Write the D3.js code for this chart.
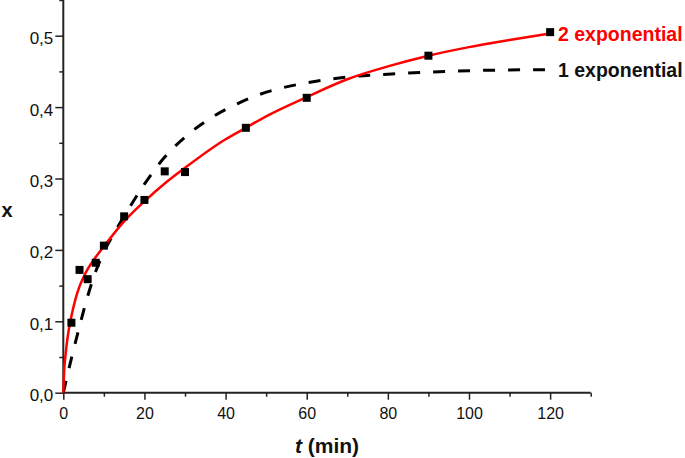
<!DOCTYPE html>
<html>
<head>
<meta charset="utf-8">
<script src="https://cdn.jsdelivr.net/npm/d3@7"></script>
<style>
  body { margin: 0; background: #fff; }
  svg { display: block; font-family: "Liberation Sans", Arial, sans-serif; }
</style>
</head>
<body>
<div id="chart"></div>
<script>
// Measured points.
const times = [2, 4, 6, 8, 10, 15, 20, 25, 30, 45, 60, 90, 120];
const conversions = [0.098, 0.172, 0.159, 0.182, 0.206, 0.247, 0.270, 0.310, 0.309, 0.371, 0.413, 0.472, 0.505];

// Fitted curves.
const fit2Times = [0, 0.2, 0.5, 1, 2, 3, 4, 5, 6, 8, 10, 15, 20, 25, 30, 40, 45, 50, 60, 70, 80, 90, 100, 110, 120];
const fit2Values = [0, 0.03, 0.05, 0.075, 0.107, 0.131, 0.149, 0.162, 0.173, 0.19, 0.205, 0.24, 0.268, 0.293, 0.315, 0.355, 0.371, 0.387, 0.414, 0.439, 0.457, 0.472, 0.484, 0.494, 0.503];
const fit1Times = [0, 2, 4, 6, 8, 10, 13, 15, 20, 25, 30, 37, 43, 48, 54, 60, 70, 80, 90, 100, 110, 120];
const fit1Values = [0, 0.048, 0.093, 0.135, 0.17, 0.197, 0.228, 0.247, 0.292, 0.33, 0.358, 0.387, 0.405, 0.417, 0.427, 0.434, 0.442, 0.446, 0.449, 0.451, 0.452, 0.4525];

const xTicks = [0, 20, 40, 60, 80, 100, 120];
const xMinor = [10, 30, 50, 70, 90, 110, 130];
const yTicks = [0, 0.1, 0.2, 0.3, 0.4, 0.5];
const yMinor = [0.05, 0.15, 0.25, 0.35, 0.45, 0.55];

const seriesLabels = ['2 exponential', '1 exponential'];

const width = 685;
const height = 458;
const axisColor = '#222';

const svg = d3.select('#chart')
  .append('svg')
  .attr('width', width)
  .attr('height', height);

const x = d3.scaleLinear().domain([0, 130]).range([63.3, 590.7]);
const y = d3.scaleLinear().domain([0, 0.55]).range([392.7, 0]);

const comma = d3.formatLocale({ decimal: ',', thousands: '.', grouping: [3], currency: ['', ''] });
const yFmt = comma.format('.1f');

// Minor ticks first, then the labelled ones.
svg.append('g')
  .attr('transform', `translate(0,${y(0)})`)
  .call(d3.axisBottom(x).tickValues(xMinor).tickSize(4).tickSizeOuter(0).tickFormat(''))
  .call(g => g.select('.domain').remove());

svg.append('g')
  .attr('transform', `translate(${x(0)},0)`)
  .call(d3.axisLeft(y).tickValues(yMinor).tickSize(4).tickSizeOuter(0).tickFormat(''))
  .call(g => g.select('.domain').remove());

svg.append('g')
  .attr('class', 'x-axis')
  .attr('transform', `translate(0,${y(0)})`)
  .call(d3.axisBottom(x).tickValues(xTicks).tickSize(7).tickSizeOuter(0).tickPadding(8));

svg.append('g')
  .attr('class', 'y-axis')
  .attr('transform', `translate(${x(0)},0)`)
  .call(d3.axisLeft(y).tickValues(yTicks).tickSize(8).tickSizeOuter(0).tickPadding(2).tickFormat(yFmt));

svg.selectAll('.domain').remove();
svg.selectAll('.tick line').attr('stroke', axisColor).attr('stroke-width', 1.5);
svg.selectAll('.tick text').attr('fill', '#111');
svg.selectAll('.x-axis .tick text').style('font-size', '16px');
svg.selectAll('.y-axis .tick text').style('font-size', '17px').attr('dy', '0.47em');

// Axis lines.
svg.append('line')
  .attr('x1', x(0)).attr('x2', x(130))
  .attr('y1', y(0)).attr('y2', y(0))
  .attr('stroke', axisColor).attr('stroke-width', 2);
svg.append('line')
  .attr('x1', x(0)).attr('x2', x(0))
  .attr('y1', y(0)).attr('y2', y(0.55))
  .attr('stroke', axisColor).attr('stroke-width', 2);

// Axis titles.
const xTitle = svg.append('text')
  .attr('x', (x(0) + x(130)) / 2)
  .attr('y', 453)
  .attr('text-anchor', 'middle')
  .attr('fill', '#111')
  .style('font-size', '21px')
  .style('font-weight', 'bold');
xTitle.append('tspan').style('font-style', 'italic').text('t');
xTitle.append('tspan').text(' (min)');

svg.append('text')
  .attr('x', 7)
  .attr('y', 217)
  .attr('text-anchor', 'middle')
  .attr('fill', '#111')
  .style('font-size', '20px')
  .style('font-weight', 'bold')
  .text('x');

const line = d3.line()
  .x(d => x(d[0]))
  .y(d => y(d[1]))
  .curve(d3.curveMonotoneX);

// 1 exponential (dashed).
svg.append('path')
  .datum(d3.zip(fit1Times, fit1Values))
  .attr('d', line)
  .attr('fill', 'none')
  .attr('stroke', '#000')
  .attr('stroke-width', 3)
  .attr('stroke-dasharray', '12,13');

// 2 exponential (red).
svg.append('path')
  .datum(d3.zip(fit2Times, fit2Values))
  .attr('d', line)
  .attr('fill', 'none')
  .attr('stroke', '#f00')
  .attr('stroke-width', 2.5);

// Points.
const sq = 8;
svg.append('g')
  .selectAll('rect')
  .data(d3.zip(times, conversions))
  .join('rect')
  .attr('x', d => x(d[0]) - sq / 2)
  .attr('y', d => y(d[1]) - sq / 2)
  .attr('width', sq)
  .attr('height', sq)
  .attr('fill', '#000');

// Curve labels at the right end.
svg.append('text')
  .attr('x', 558)
  .attr('y', 41)
  .attr('fill', '#f00')
  .style('font-size', '19.5px')
  .style('font-weight', 'bold')
  .text(seriesLabels[0]);

svg.append('text')
  .attr('x', 558)
  .attr('y', 77)
  .attr('fill', '#111')
  .style('font-size', '19.5px')
  .style('font-weight', 'bold')
  .text(seriesLabels[1]);
</script>
</body>
</html>
